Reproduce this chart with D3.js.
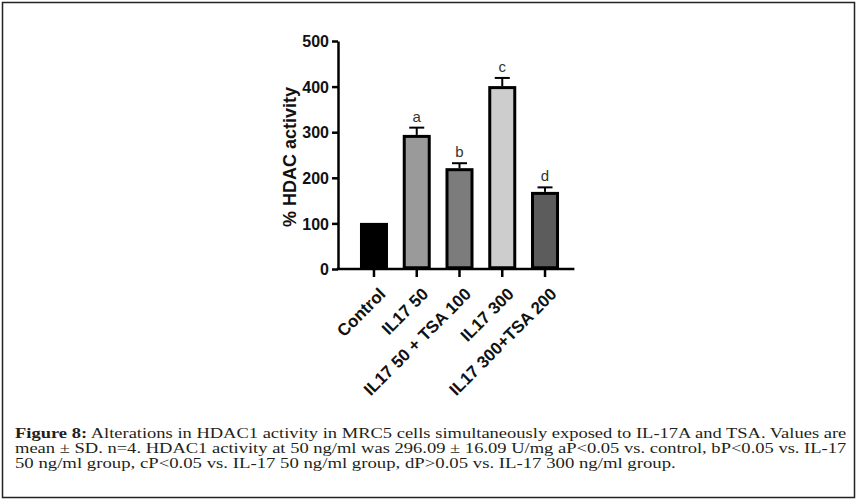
<!DOCTYPE html>
<html><head><meta charset="utf-8">
<script src="https://cdn.jsdelivr.net/npm/d3@7"></script>
<style>html,body{margin:0;padding:0;background:#fff;}svg{display:block;}</style>
</head><body>
<svg id="c" width="859" height="504"></svg>
<script>
const categories = ["Control", "IL17 50", "IL17 50 + TSA 100", "IL17 300", "IL17 300+TSA 200"];
const values = [100, 293, 220, 400, 168];
const errors = [0, 17, 12, 19, 11];
const letters = ["", "a", "b", "c", "d"];
const fills = ["#000000", "#9a9a9a", "#7c7c7c", "#cdcdcd", "#5c5c5c"];
const yTicks = [0, 100, 200, 300, 400, 500];
const yTitle = "% HDAC activity";
const captionBold = "Figure 8:";
const captionLines = [
  " Alterations in HDAC1 activity in MRC5 cells simultaneously exposed to IL-17A and TSA. Values are",
  "mean ± SD. n=4. HDAC1 activity at 50 ng/ml was 296.09 ± 16.09 U/mg aP<0.05 vs. control, bP<0.05 vs. IL-17",
  "50 ng/ml group, cP<0.05 vs. IL-17 50 ng/ml group, dP>0.05 vs. IL-17 300 ng/ml group."
];

const svg = d3.select("#c");
// frame
svg.append("rect").attr("x", 2.5).attr("y", 2.5).attr("width", 852).attr("height", 495)
  .attr("fill", "none").attr("stroke", "#222").attr("stroke-width", 1.5);

const axisX = 338;
const y = d3.scaleLinear().domain([0, 500]).range([269, 41]);
const x = d3.scaleBand().domain(categories).range([352.6, 566.4]).paddingInner(0.345).paddingOuter(0.1725);

const g = svg.append("g");
// y axis
const ya = g.append("g").attr("transform", `translate(${axisX},0)`)
  .call(d3.axisLeft(y).tickValues(yTicks).tickSize(6).tickSizeOuter(0).tickPadding(3));
ya.select(".domain").attr("stroke", "#000").attr("stroke-width", 2.5);
ya.selectAll(".tick line").attr("stroke", "#000").attr("stroke-width", 2.5);
ya.selectAll(".tick text").attr("font-family", "Liberation Sans, Arial, sans-serif")
  .attr("font-weight", "bold").attr("font-size", 16).attr("fill", "#111").attr("dy", "0.36em");

// x axis
const xa = g.append("g").attr("transform", `translate(0,${y(0)})`)
  .call(d3.axisBottom(x).tickSize(8).tickSizeOuter(0).tickPadding(4));
xa.select(".domain").remove();
xa.selectAll(".tick line").attr("stroke", "#000").attr("stroke-width", 2.5);
xa.selectAll(".tick text").attr("font-family", "Liberation Sans, Arial, sans-serif")
  .attr("font-weight", "bold").attr("font-size", 17).attr("fill", "#111")
  .attr("text-anchor", "end").attr("transform", "translate(-3,8) rotate(-45)").attr("dy", "0.7em").attr("dx", "-0.1em");
g.append("line").attr("x1", axisX - 1.25).attr("x2", x.range()[1] + 8)
  .attr("y1", y(0)).attr("y2", y(0)).attr("stroke", "#000").attr("stroke-width", 2.5);

// bars
const data = categories.map((c, i) => ({c, v: values[i], e: errors[i], l: letters[i], f: fills[i]}));
g.selectAll("rect.bar").data(data).join("rect").attr("class", "bar")
  .attr("x", d => x(d.c) + 1.5).attr("width", x.bandwidth() - 3)
  .attr("y", d => y(d.v) + 1).attr("height", d => y(0) - y(d.v) - 2.25)
  .attr("fill", d => d.f).attr("stroke", "#000").attr("stroke-width", 3);

// error bars
const eb = data.filter(d => d.e > 0);
g.selectAll("line.err").data(eb).join("line").attr("class", "err")
  .attr("x1", d => x(d.c) + x.bandwidth() / 2).attr("x2", d => x(d.c) + x.bandwidth() / 2)
  .attr("y1", d => y(d.v) - 0.5).attr("y2", d => y(d.v + d.e))
  .attr("stroke", "#000").attr("stroke-width", 2);
g.selectAll("line.cap").data(eb).join("line").attr("class", "cap")
  .attr("x1", d => x(d.c) + x.bandwidth() / 2 - 7.5).attr("x2", d => x(d.c) + x.bandwidth() / 2 + 7.5)
  .attr("y1", d => y(d.v + d.e)).attr("y2", d => y(d.v + d.e))
  .attr("stroke", "#000").attr("stroke-width", 2);
g.selectAll("text.let").data(eb).join("text").attr("class", "let")
  .attr("x", d => x(d.c) + x.bandwidth() / 2).attr("y", d => y(d.v + d.e) - 6)
  .attr("text-anchor", "middle").attr("font-family", "Liberation Sans, Arial, sans-serif")
  .attr("font-size", 15).attr("fill", "#333").text(d => d.l);

// y title
g.append("text").attr("transform", `translate(296,${(y(0) + y(500)) / 2 + 2}) rotate(-90)`)
  .attr("text-anchor", "middle").attr("font-family", "Liberation Sans, Arial, sans-serif")
  .attr("font-weight", "bold").attr("font-size", 18).attr("fill", "#111").text(yTitle);

// caption
const capX = 15, capEnds = [847, 847, 676], capY = [438, 453, 468];
captionLines.forEach((line, i) => {
  const t = svg.append("text").attr("x", capX).attr("y", capY[i])
    .attr("font-family", "Liberation Serif, Times New Roman, serif").attr("font-size", 15).attr("fill", "#231f20");
  if (i === 0) t.append("tspan").attr("font-weight", "bold").text(captionBold);
  t.append("tspan").text(line);
  const w = t.node().getComputedTextLength();
  const k = (capEnds[i] - capX) / w;
  t.attr("transform", `translate(${capX},0) scale(${k.toFixed(4)},1) translate(${-capX},0)`);
});
</script>
</body></html>
